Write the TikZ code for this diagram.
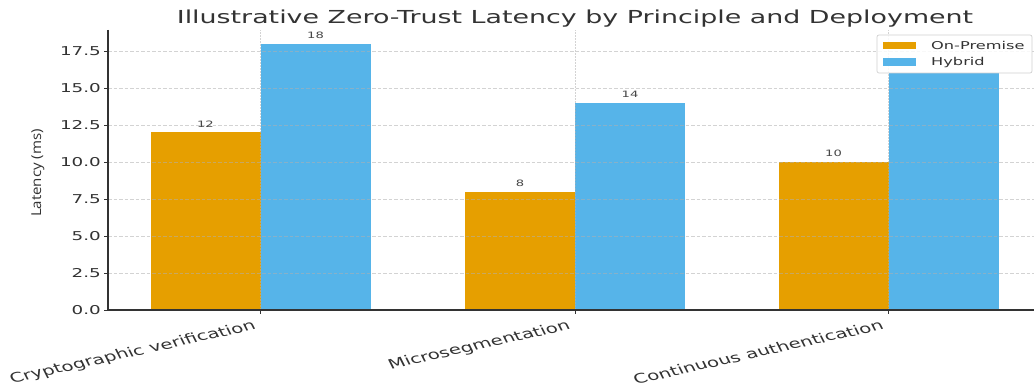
\documentclass[tikz,border=0pt]{standalone}
\usepackage{fontspec}
\usepackage{graphicx}
\setmainfont{DejaVu Sans}
\newfontfamily\widesans[FakeStretch=1.5]{DejaVu Sans}
\newfontfamily\plainsans{DejaVu Sans}
\newfontfamily\labelsans{Open Sans}
\definecolor{onprem}{HTML}{E69F00}
\definecolor{hybrid}{HTML}{56B4E9}
\definecolor{ink}{HTML}{333333}
\definecolor{gridc}{HTML}{B0B0B0}
\definecolor{framec}{HTML}{D0D0D0}
\tikzset{
  spine/.style={draw=ink, line width=1.1pt},
  tickmark/.style={draw=ink, line width=0.9pt},
  hgrid/.style={draw=gridc, line width=0.7pt, opacity=0.55, dash pattern=on 3.5pt off 2pt},
  vgrid/.style={draw=gridc, line width=0.7pt, opacity=0.55, dash pattern=on 1.5pt off 1.5pt},
  ytick/.style={anchor=east, inner sep=0pt, text=ink, font=\widesans\fontsize{12.2}{14}\selectfont},
  val/.style={anchor=base, inner sep=0pt, text=ink!90, font=\widesans\fontsize{8.75}{10}\selectfont},
  xlab/.style={anchor=base east, inner sep=0pt, text=ink, rotate=18.5, transform shape,
               font=\plainsans\fontsize{13.2}{15}\selectfont},
  legtext/.style={anchor=base west, inner sep=0pt, text=ink, font=\widesans\fontsize{10.8}{12}\selectfont},
  title/.style={anchor=base, inner sep=0pt, text=ink, font=\widesans\fontsize{17.9}{20}\selectfont}
}
\begin{document}
\begin{tikzpicture}[x=1pt,y=1pt]
\useasboundingbox (0,0) rectangle (1034,387);
\fill[white] (0,0) rectangle (1034,387);

% bars: value v sits at height 77 + 14.8 v
\foreach \c/\a/\b in {260.5/12/18, 575/8/14, 888.5/10/16} {
  \fill[onprem] (\c-110,77) rectangle (\c,{77+14.8*\a});
  \fill[hybrid] (\c,77) rectangle (\c+110,{77+14.8*\b});
}

% grid
\foreach \v in {2.5,5,...,17.5}
  \draw[hgrid] (108,{77+14.8*\v}) -- (1034,{77+14.8*\v});
\foreach \c in {260.5,575,888.5}
  \draw[vgrid] (\c,77) -- (\c,357);

% axes
\draw[spine] (108,357) -- (108,77) -- (1034,77);
\foreach \t/\v [count=\k] in {0.0/0, 2.5/2.5, 5.0/5, 7.5/7.5, 10.0/10, 12.5/12.5, 15.0/15, 17.5/17.5} {
  \draw[tickmark] (104,{77+14.8*\v}) -- (108,{77+14.8*\v});
  \node[ytick] (yt\k) at (101,{77+14.8*\v}) {\t};
}
\foreach \c in {260.5,575,888.5}
  \draw[tickmark] (\c,77) -- (\c,73);

% category labels
\begin{scope}[shift={(257,58)}, xscale=1.5]
  \node[xlab] (xl1) at (0,0) {Cryptographic verification};
\end{scope}
\begin{scope}[shift={(571.5,58)}, xscale=1.5]
  \node[xlab] (xl2) at (0,0) {Microsegmentation};
\end{scope}
\begin{scope}[shift={(885,58)}, xscale=1.5]
  \node[xlab] (xl3) at (0,0) {Continuous authentication};
\end{scope}

% value labels
\node[val] (va1) at (205.5,{77+14.8*12+5}) {12};
\node[val] (vb1) at (315.5,{77+14.8*18+5}) {18};
\node[val] (va2) at (520,{77+14.8*8+5}) {8};
\node[val] (vb2) at (630,{77+14.8*14+5}) {14};
\node[val] (va3) at (833.5,{77+14.8*10+5}) {10};

% axis label and title
\node[rotate=90, inner sep=0pt, text=ink] (ylab) at (38,214)
  {\resizebox*{88pt}{13pt}{\labelsans Latency (ms)}};
\node[title] (ttl) at (575,363) {Illustrative Zero-Trust Latency by Principle and Deployment};

% legend
\draw[draw=framec, fill=white, fill opacity=0.85, rounded corners=2pt, line width=0.7pt]
  (877,314) rectangle (1032,352);
\fill[onprem] (883,338) rectangle (916,345);
\fill[hybrid] (883,321) rectangle (916,329);
\node[legtext] (lg1) at (931,337) {On-Premise};
\node[legtext] (lg2) at (931,321) {Hybrid};
\end{tikzpicture}
\end{document}
